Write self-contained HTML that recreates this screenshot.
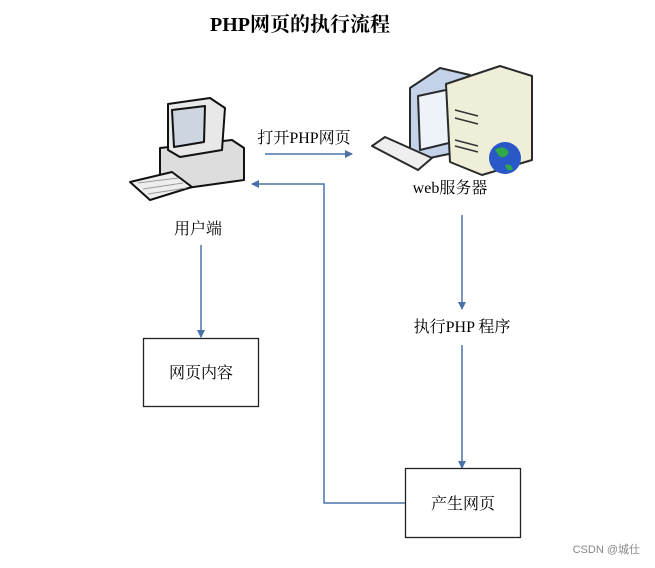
<!DOCTYPE html>
<html><head><meta charset="utf-8"><style>
body{margin:0;background:#fff}
svg text{font-family:"Liberation Serif","Noto Serif CJK SC",serif}
</style></head><body>
<svg width="655" height="563" viewBox="0 0 655 563" xmlns="http://www.w3.org/2000/svg">
<defs><marker id="a" markerWidth="8" markerHeight="8" refX="7" refY="4" orient="auto" markerUnits="userSpaceOnUse"><path d="M0,0 L8,4 L0,8z" fill="#4a72a8"/></marker></defs>
<text x="300" y="31" font-size="20" font-weight="bold" text-anchor="middle">PHP网页的执行流程</text>
<!-- client computer -->
<g stroke="#111" stroke-width="2" stroke-linejoin="round">
<path d="M160,148 L232,140 L244,148 L244,180 L172,190 L160,182z" fill="#ddd"/>
<path d="M168,104 L210,98 L225,108 L222,150 L180,157 L168,150z" fill="#e8e8e8"/>
<path d="M172,110 L205,106 L204,142 L174,147z" fill="#cdd6e0"/>
<path d="M130,182 L172,172 L192,187 L150,200z" fill="#eee"/>
</g>
<g stroke="#999" stroke-width="1"><line x1="138" y1="183" x2="178" y2="178"/><line x1="143" y1="189" x2="183" y2="183"/><line x1="148" y1="194" x2="186" y2="188"/></g>
<text x="198" y="234" font-size="16" text-anchor="middle">用户端</text>
<!-- server -->
<g stroke="#2a2a2a" stroke-width="2" stroke-linejoin="round">
<path d="M410,88 L440,68 L470,75 L468,150 L420,160 L410,150z" fill="#c5d3ea"/>
<path d="M418,96 L455,88 L453,142 L420,150z" fill="#eef3fa"/>
<path d="M446,84 L500,66 L532,76 L532,160 L482,175 L450,162z" fill="#efeed8"/>
<path d="M372,146 L385,137 L432,158 L418,170z" fill="#eee"/>
</g>
<g stroke="#333" stroke-width="1.5"><line x1="455" y1="110" x2="478" y2="116"/><line x1="455" y1="118" x2="478" y2="124"/><line x1="455" y1="140" x2="478" y2="146"/><line x1="455" y1="146" x2="478" y2="152"/></g>
<circle cx="505" cy="158" r="16" fill="#2a58c8"/><path d="M495,150 q8,-6 14,2 q-4,8 -10,4z M505,165 q6,-2 8,4 q-6,4 -8,-4z" fill="#2fa84a"/>
<text x="450" y="193" font-size="16" text-anchor="middle">web服务器</text>
<text x="304" y="143" font-size="16" text-anchor="middle">打开PHP网页</text>
<g stroke="#4a72a8" stroke-width="1.5" fill="none">
<line x1="265" y1="154" x2="352" y2="154" marker-end="url(#a)"/>
<polyline points="405,503 324,503 324,184 252,184" marker-end="url(#a)"/>
<line x1="462" y1="215" x2="462" y2="309" marker-end="url(#a)"/>
<line x1="462" y1="345" x2="462" y2="468" marker-end="url(#a)"/>
<line x1="201" y1="245" x2="201" y2="337" marker-end="url(#a)"/>
</g>
<text x="462" y="332" font-size="16" text-anchor="middle">执行PHP 程序</text>
<rect x="143.5" y="338.5" width="115" height="68" fill="#fff" stroke="#222" stroke-width="1.3"/>
<text x="201" y="378" font-size="16" text-anchor="middle">网页内容</text>
<rect x="405.5" y="468.5" width="115" height="69" fill="#fff" stroke="#222" stroke-width="1.3"/>
<text x="463" y="509" font-size="16" text-anchor="middle">产生网页</text>
<text x="640" y="553" font-size="11" fill="#888" text-anchor="end" style='font-family:"Liberation Sans","Noto Sans CJK SC",sans-serif'>CSDN @城仕</text>
</svg>
</body></html>
